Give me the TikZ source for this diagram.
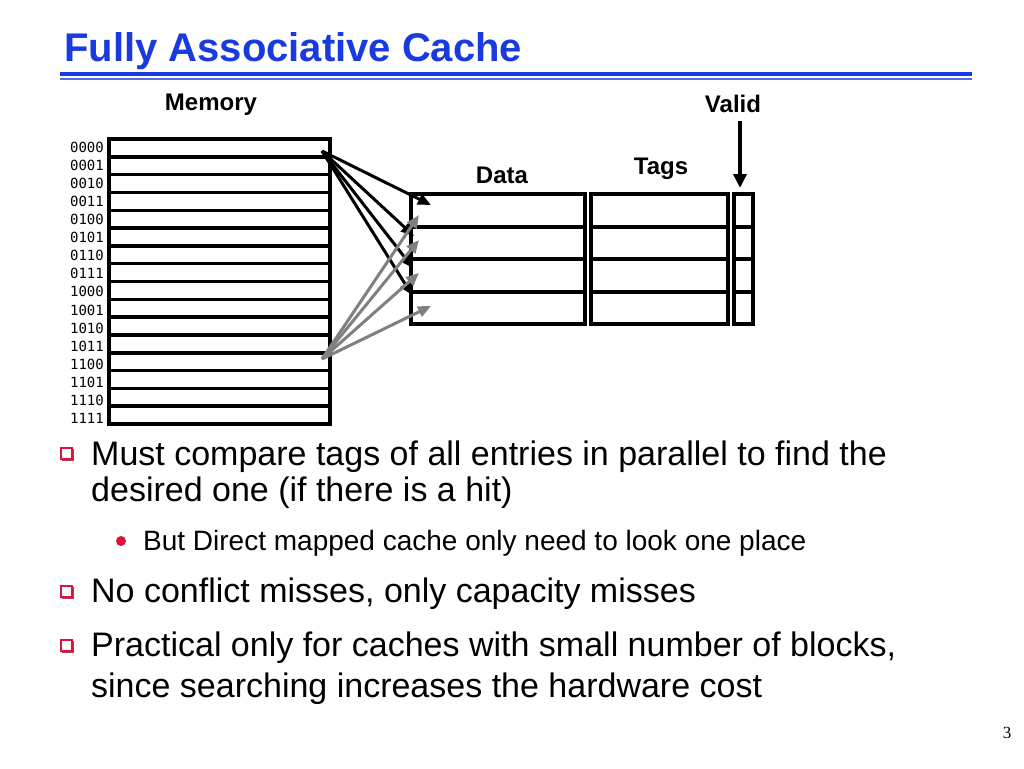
\documentclass[tikz,border=0pt]{standalone}
\usepackage{fontspec}
\setmainfont{Liberation Sans}
\newfontfamily\monofont{DejaVu Sans Mono}
\newfontfamily\serifnum{Liberation Serif}
\usetikzlibrary{arrows.meta}
\definecolor{titleblue}{RGB}{24,58,222}
\definecolor{bulletred}{RGB}{226,16,60}
\definecolor{arrgray}{RGB}{128,128,128}
\tikzset{
  box/.style={draw=black,line width=3.5pt},
  rowline/.style={draw=black,line width=3.5pt},
  addr/.style={font=\monofont\fontsize{14}{14}\selectfont,anchor=east,inner sep=0pt},
  head/.style={font=\bfseries\fontsize{24}{24}\selectfont,inner sep=0pt},
  blk/.style={line width=3pt,draw=black,-{Triangle[length=13pt,width=11pt]}},
  gry/.style={line width=3pt,draw=arrgray,-{Triangle[length=13pt,width=11pt]}},
  main/.style={font=\fontsize{34}{34}\selectfont,anchor=base west,inner sep=0pt},
  sub/.style={font=\fontsize{28}{28}\selectfont,anchor=base west,inner sep=0pt},
  sqbullet/.style={draw=bulletred,line width=2.2pt,minimum size=11pt,inner sep=0pt,fill=white},
  sqshadow/.style={fill=bulletred!70!black!80,minimum size=12pt,inner sep=0pt},
  dotbullet/.style={circle,fill=bulletred,minimum size=10pt,inner sep=0pt}
}
\begin{document}
\begin{tikzpicture}[x=1pt,y=-1pt]
\useasboundingbox (0,0) rectangle (1024,768);
\fill[white] (0,0) rectangle (1024,768);
% title
\node[font=\bfseries\fontsize{40}{40}\selectfont,text=titleblue,anchor=base west,inner sep=0pt] (title) at (64,62) {Fully Associative Cache};
\draw[titleblue,line width=4.5pt] (60,74) -- (972,74);
\draw[titleblue!75,line width=1.5pt] (60,79) -- (972,79);
% memory
\node[head] (memhead) at (211,105) {Memory};
\draw[box] (109,139) rectangle (330,424);
\foreach \i in {1,...,15} {
  \draw[rowline] (109,139+\i*17.8125) -- (330,139+\i*17.8125);
}
\foreach \lbl [count=\i from 0] in {0000,0001,0010,0011,0100,0101,0110,0111,1000,1001,1010,1011,1100,1101,1110,1111} {
  \node[addr] (a\lbl) at (104,147+\i*18.1) {\lbl};
}
% cache
\node[head] (datahead) at (502,175) {Data};
\node[head] (tagshead) at (661,169) {Tags};
\node[head] (validhead) at (733,104) {Valid};
\draw[box] (411,194) rectangle (585,324);
\draw[box] (591,194) rectangle (728,324);
\draw[box] (734,194) rectangle (753,324);
\foreach \y in {227,259,292} {
  \draw[rowline] (411,\y) -- (585,\y);
  \draw[rowline] (591,\y) -- (728,\y);
  \draw[rowline] (734,\y) -- (753,\y);
}
\coordinate (vtop) at (740,121);
\coordinate (vbot) at (740,188);
\draw[line width=3.5pt,-{Triangle[length=14pt,width=13pt]}] (vtop) -- (vbot);
% arrows
\coordinate (src0) at (322,151);
\coordinate (src12) at (322,359);
\coordinate (b1) at (431,205);
\coordinate (b2) at (414,236);
\coordinate (b3) at (413,268);
\coordinate (b4) at (412,295);
\coordinate (g1) at (419,215);
\coordinate (g2) at (419,240);
\coordinate (g3) at (419,273);
\coordinate (g4) at (431,306);
\foreach \t in {b1,b2,b3,b4} \draw[blk] (src0) -- (\t);
\foreach \t in {g1,g2,g3,g4} \draw[gry] (src12) -- (\t);
% bullets
\node[sqshadow] (s1s) at (68,455) {};
\node[sqbullet] (s1) at (66.5,453.5) {};
\node[main] (t1a) at (91,465) {Must compare tags of all entries in parallel to find the};
\node[main] (t1b) at (91,501) {desired one (if there is a hit)};
\node[dotbullet] (d1) at (121,541) {};
\node[sub] (t1c) at (143,550) {But Direct mapped cache only need to look one place};
\node[sqshadow] (s2s) at (68,593) {};
\node[sqbullet] (s2) at (66.5,591.5) {};
\node[main] (t2) at (91,602) {No conflict misses, only capacity misses};
\node[sqshadow] (s3s) at (68,647) {};
\node[sqbullet] (s3) at (66.5,645.5) {};
\node[main] (t3a) at (91,656) {Practical only for caches with small number of blocks,};
\node[main] (t3b) at (91,697) {since searching increases the hardware cost};
\node[font=\serifnum\fontsize{17}{17}\selectfont,anchor=base,inner sep=0pt] (pg) at (1007,738) {3};
\end{tikzpicture}
\end{document}
